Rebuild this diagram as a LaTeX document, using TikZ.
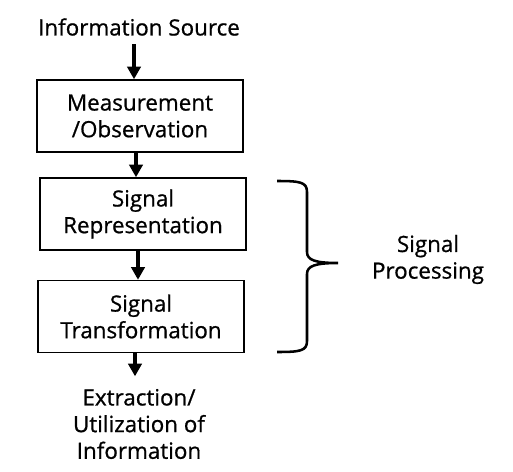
\documentclass[tikz,border=0pt]{standalone}
\usepackage{fontspec}
\setmainfont{Open Sans}[FakeBold=0.8]
\usetikzlibrary{arrows.meta}

\begin{document}
\begin{tikzpicture}[x=0.75pt, y=-0.75pt,
  every node/.style={font=\fontsize{16.8}{20}\selectfont, align=center},
  stage/.style={draw, line width=1.1pt, minimum width=154.5pt, minimum height=54pt, inner sep=0pt},
  arr/.style={line width=2.6pt, -{Triangle[length=9.5pt, width=10pt]}}]

  \useasboundingbox (0,0) rectangle (513,471);

  % --- Source and stages ---
  \node (src) at (139,27) {Information Source};
  \node[stage] (meas) at (140,116) {Measurement\\/Observation};
  \node[stage] (rep) at (143,214) {Signal\\Representation};
  \node[stage] (trans) at (141,316.5) {Signal\\Transformation};
  \node (out) at (139,424) {Extraction/\\Utilization of\\Information};

  % --- Arrows ---
  \draw[arr] ([xshift=-3.75pt, yshift=-3pt]src.south) -- ([xshift=-4.5pt]meas.north);
  \draw[arr] ([xshift=-3pt]meas.south) -- ([xshift=-5.25pt]rep.north);
  \draw[arr] ([xshift=-3.75pt]rep.south) -- ([xshift=-2.25pt]trans.north);
  \draw[arr] ([xshift=-4.5pt]trans.south) -- ([xshift=-3pt, yshift=6pt]out.north);

  % --- Brace ---
  \coordinate (btop) at (277,181);
  \coordinate (bmid) at (338,263);
  \coordinate (bbot) at (277,352);
  \draw[line width=1.9pt]
    (btop) .. controls (300,181) and (307,182) .. (307,192)
    -- (307,252) .. controls (307,260) and (315,263) .. (bmid)
    .. controls (315,263) and (307,266) .. (307,274)
    -- (307,341) .. controls (307,351) and (300,352) .. (bbot);

  \node (proc) at (428,259.5) {Signal\\Processing};

\end{tikzpicture}
\end{document}
